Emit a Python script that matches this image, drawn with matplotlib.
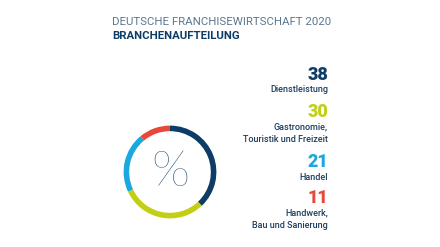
import matplotlib.pyplot as plt

title = "DEUTSCHE FRANCHISEWIRTSCHAFT 2020"
subtitle = "BRANCHENAUFTEILUNG"
werte = [38, 30, 21, 11]
branchen = ["Dienstleistung", "Gastronomie,\nTouristik und Freizeit", "Handel", "Handwerk,\nBau und Sanierung"]
farben = ["#0d3d66", "#c3cf14", "#1aa8de", "#e8483a"]

plt.rcParams['font.family'] = ['Roboto', 'DejaVu Sans']

fig = plt.figure(figsize=(4.4, 2.47), dpi=100)
W, H = 440, 247

def px(x, y):
    return x / W, 1 - y / H

# Ring
ax = fig.add_axes([112 / W, (247 - 230) / H, 116 / W, 116 / H])
ax.pie(werte, colors=farben, startangle=90, counterclock=False, radius=1,
       wedgeprops=dict(width=0.12, edgecolor='none'))
ax.set_aspect('equal')
ax.text(0, 0.0, "%", ha='center', va='center', fontsize=36, color="#0d3d66",
        fontweight='light', family=['Lato', 'DejaVu Sans'])

# Titel
fig.text(*px(112, 22), title, ha='left', va='center', fontsize=8.2, color="#5d7690")
fig.text(*px(112, 36), subtitle, ha='left', va='center', fontsize=8.2, color="#0d3d66",
         fontweight='bold')

# Legende rechts
zahl_y = [75, 112, 162, 198]
text_y = [90, 133, 177, 219.5]
for w, b, f, zy, ty in zip(werte, branchen, farben, zahl_y, text_y):
    fig.text(*px(328, zy), str(w), ha='right', va='center', fontsize=13, color=f,
             fontweight='black')
    fig.text(*px(328, ty), b, ha='right', va='center', fontsize=6.5, color="#1c3f60",
             fontweight='medium', linespacing=1.45)

fig.savefig("out.png", dpi=100)
